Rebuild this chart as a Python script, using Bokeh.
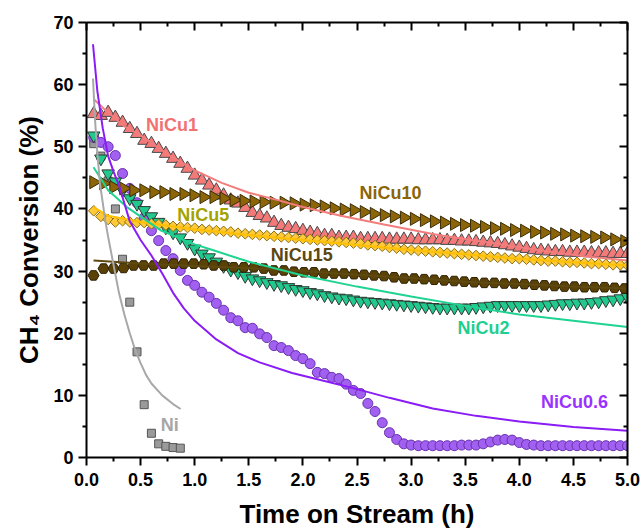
import numpy as np
from bokeh.plotting import figure
from bokeh.models import FixedTicker, LinearAxis, Label, Range1d, CustomLabelingPolicy
from bokeh.embed import file_html
from bokeh.resources import INLINE

# ---------------- data ----------------
# sampling times (h)
t_fast = np.round(np.arange(1, 76) / 15.0, 4)          # every 4 min
t_slow = np.round(0.065 + 0.0926 * np.arange(54), 4)   # every ~5.6 min

ni_t = [0.067, 0.133, 0.2, 0.267, 0.333, 0.4, 0.467, 0.533, 0.6, 0.667, 0.733, 0.8, 0.867]
ni_y = [50.5, 48.5, 44.5, 40.0, 31.9, 25.0, 17.0, 8.5, 3.9, 2.2, 1.8, 1.6, 1.5]

nicu06_y = [51.5, 50.7, 50.0, 48.6, 45.7, 43.3, 41.0, 38.6, 36.5, 34.9,
            33.3, 32.0, 30.1, 28.5, 27.7, 26.6, 25.8, 24.8, 23.7, 22.5,
            22.0, 20.9, 20.8, 19.9, 19.3, 18.0, 17.7, 17.2, 16.4, 15.9,
            15.1, 13.7, 13.5, 12.9, 12.7, 11.8, 10.8, 10.3, 8.7, 7.4,
            5.6, 4.0, 2.9, 2.2, 2.0, 1.9, 1.9, 1.9, 1.9, 1.9,
            1.9, 2.0, 2.0, 2.0, 2.2, 2.5, 2.8, 2.9, 2.8, 2.4,
            2.1, 2.0, 1.9, 1.9, 1.9, 1.9, 1.9, 1.9, 1.9, 1.9,
            1.9, 1.9, 1.9, 1.9, 1.9]

nicu1_y = [55.3, 55.0, 55.5, 54.7, 53.9, 52.9, 52.1, 51.0, 50.5, 49.7,
           48.9, 48.1, 47.3, 46.5, 45.4, 44.6, 43.8, 43.0, 42.2, 41.4,
           40.9, 40.2, 39.4, 38.9, 38.5, 37.8, 37.3, 37.0, 36.8, 36.5,
           36.2, 36.0, 35.7, 35.7, 35.4, 35.4, 35.4, 35.2, 35.2, 35.2,
           35.2, 35.1, 35.1, 35.1, 35.1, 35.0, 35.0, 35.0, 35.0, 34.9,
           34.9, 34.8, 34.8, 34.7, 34.6, 34.5, 34.4, 34.2, 34.0, 33.8,
           33.6, 33.4, 33.3, 33.2, 33.1, 33.1, 33.0, 33.0, 33.0, 32.9,
           32.9, 32.9, 32.8, 32.8, 32.8]

nicu2_y = [51.8, 48.1, 45.7, 44.4, 43.0, 41.7, 40.8, 39.8, 38.8, 37.9,
           37.0, 36.2, 35.4, 34.5, 33.6, 32.8, 32.2, 31.5, 30.8, 30.2,
           29.8, 29.2, 28.8, 28.5, 28.2, 27.9, 27.7, 27.4, 27.1, 26.9,
           26.6, 26.4, 26.1, 25.9, 25.7, 25.6, 25.4, 25.2, 25.1, 25.0,
           24.9, 24.8, 24.7, 24.6, 24.5, 24.4, 24.3, 24.2, 24.1, 24.1,
           24.1, 24.1, 24.1, 24.2, 24.3, 24.4, 24.5, 24.5, 24.5, 24.5,
           24.5, 24.5, 24.5, 24.6, 24.7, 24.8, 24.8, 24.9, 24.9, 25.0,
           25.1, 25.3, 25.4, 25.6, 25.8]

nicu5_y = [39.7, 38.8, 38.3, 37.9, 38.1, 37.9, 37.8, 37.8, 37.6, 37.5,
           37.4, 37.2, 37.1, 37.0, 36.9, 36.7, 36.6, 36.5, 36.4, 36.3,
           36.1, 36.0, 35.9, 35.8, 35.7, 35.6, 35.5, 35.4, 35.3, 35.2,
           35.1, 35.0, 34.9, 34.8, 34.7, 34.6, 34.5, 34.4, 34.2, 34.1,
           34.0, 33.8, 33.7, 33.5, 33.4, 33.3, 33.2, 33.1, 33.0, 32.9,
           32.8, 32.7, 32.6, 32.5, 32.4, 32.3, 32.2, 32.1, 32.0, 32.0,
           31.9, 31.8, 31.7, 31.6, 31.6, 31.5, 31.4, 31.4, 31.3, 31.2,
           31.2, 31.1, 31.0, 31.0, 30.9]

nicu10_y = [44.3, 44.1, 43.5, 43.3, 43.0, 43.0, 42.7, 42.7, 42.4, 42.4,
            42.2, 41.9, 41.9, 41.7, 41.4, 41.3, 41.2, 41.1, 41.0, 41.0,
            40.9, 40.7, 40.6, 40.4, 40.1, 39.9, 39.8, 39.5, 39.2, 39.0,
            38.8, 38.6, 38.4, 38.2, 38.0, 37.8, 37.6, 37.4, 37.3, 37.1,
            36.9, 36.8, 36.6, 36.5, 36.3, 36.2, 36.0, 35.9, 35.7, 35.6,
            35.5, 35.4, 35.1, 34.8]

nicu15_y = [29.3, 30.4, 30.4, 30.5, 30.9, 30.9, 30.9, 31.2, 31.2, 31.2,
            31.2, 31.1, 30.9, 30.9, 30.6, 30.6, 30.6, 30.4, 30.1, 30.1,
            29.9, 29.8, 29.8, 29.6, 29.6, 29.6, 29.5, 29.4, 29.3, 29.2,
            29.0, 28.8, 28.8, 28.7, 28.6, 28.5, 28.4, 28.3, 28.2, 28.1,
            28.1, 28.0, 28.0, 27.9, 27.8, 27.7, 27.6, 27.5, 27.5, 27.4,
            27.4, 27.4, 27.3, 27.2]

# fitted curves
fit_ni_t = [0.06, 0.08, 0.1, 0.125, 0.15, 0.175, 0.2, 0.25, 0.3, 0.35, 0.4, 0.45, 0.5, 0.55, 0.6, 0.7, 0.8, 0.87]
fit_ni_y = [61.0, 54.0, 49.0, 44.0, 41.0, 38.0, 35.5, 31.0, 26.5, 23.0, 20.0, 17.3, 15.2, 13.3, 11.9, 10.0, 8.6, 7.8]

fit_06_t = [0.06, 0.1, 0.15, 0.2, 0.25, 0.3, 0.4, 0.5, 0.6, 0.7, 0.8, 0.9, 1.0, 1.2, 1.4, 1.6, 1.9, 2.2, 2.5, 2.8, 3.2, 3.6, 4.0, 4.5, 5.0]
fit_06_y = [66.5, 59.0, 53.0, 48.5, 46.0, 43.8, 38.0, 35.0, 32.5, 29.6, 26.5, 24.0, 22.0, 19.0, 16.8, 15.3, 13.6, 12.3, 11.0, 9.6, 7.9, 6.7, 5.8, 4.9, 4.3]

fit_1_t = [0.065, 0.2, 0.35, 0.53, 0.75, 1.0, 1.25, 1.5, 1.75, 2.0, 2.35, 2.75, 3.25, 3.75, 4.2, 4.6, 5.0]
fit_1_y = [57.7, 55.5, 53.3, 51.5, 48.8, 46.2, 44.2, 42.6, 41.5, 40.3, 38.9, 37.5, 35.8, 34.5, 33.3, 32.4, 31.7]

fit_2_t = [0.065, 0.2, 0.38, 0.69, 1.0, 1.18, 1.5, 2.0, 2.5, 3.0, 3.5, 4.0, 4.5, 5.0]
fit_2_y = [46.7, 43.0, 40.2, 36.5, 34.3, 33.3, 31.5, 29.3, 27.5, 25.9, 24.4, 23.0, 22.0, 21.0]

fit_5_t = [0.065, 0.2, 0.5, 1.0, 1.5, 2.0, 2.5, 3.0, 3.5, 4.0, 4.5, 5.0]
fit_5_y = [40.3, 38.9, 37.9, 36.7, 35.8, 35.0, 34.2, 33.4, 32.7, 32.0, 31.4, 30.9]

fit_15_t = [0.065, 0.5, 1.0, 1.5, 2.0, 2.5, 3.0, 3.5, 4.0, 4.5, 5.0]
fit_15_y = [31.7, 31.2, 30.8, 30.5, 30.0, 29.4, 28.9, 28.3, 27.9, 27.5, 27.2]

x_ticks = [0.0, 0.5, 1.0, 1.5, 2.0, 2.5, 3.0, 3.5, 4.0, 4.5, 5.0]
x_tick_labels = ["0.0", "0.5", "1.0", "1.5", "2.0", "2.5", "3.0", "3.5", "4.0", "4.5", "5.0"]
x_minor = [0.25, 0.75, 1.25, 1.75, 2.25, 2.75, 3.25, 3.75, 4.25, 4.75]
y_ticks = [0, 10, 20, 30, 40, 50, 60, 70]
y_tick_labels = ["0", "10", "20", "30", "40", "50", "60", "70"]
y_minor = [5, 15, 25, 35, 45, 55, 65]

# ---------------- figure ----------------
FONT = "Liberation Sans"

p = figure(width=641, height=531, output_backend="svg", toolbar_location=None,
           x_range=Range1d(0, 5), y_range=Range1d(0, 70),
           min_border_left=86, min_border_right=14, min_border_top=22, min_border_bottom=74)
p.background_fill_color = "white"
p.border_fill_color = "white"
p.outline_line_color = None
p.xgrid.visible = False
p.ygrid.visible = False

# markers
mk_line = "#4a4a4a"
p.scatter(ni_t, ni_y, marker="square", size=8, fill_color="#9a9a9a", line_color="#555555", line_width=1)
p.scatter(t_fast, nicu06_y, marker="circle", size=10, fill_color="#a160f0", line_color="#6a30b0", line_width=1)
p.scatter(t_fast, nicu1_y, marker="triangle", size=13, fill_color="#f47a7a", line_color=mk_line, line_width=1)
p.scatter(t_fast, nicu2_y, marker="inverted_triangle", size=12.5, fill_color="#22c98e", line_color="#2d3a33", line_width=1)
p.scatter(t_fast, nicu5_y, marker="square", angle=np.pi / 4, size=7.5, fill_color="#ffc93a", line_color="#8a7010", line_width=1)
p.scatter(t_slow, nicu10_y, marker="triangle", angle=-np.pi / 2, size=13, fill_color="#8b6508", line_color="#3a2c05", line_width=1)
p.scatter(t_slow, nicu15_y, marker="hex", size=11, fill_color="#5a4106", line_color="#2e2103", line_width=1)

# fitted curves
p.line(fit_5_t, fit_5_y, line_color="#ffc000", line_width=2)
p.line(fit_15_t, fit_15_y, line_color="#5e4a10", line_width=2)
p.line(fit_1_t, fit_1_y, line_color="#f37c7c", line_width=2)
p.line(fit_2_t, fit_2_y, line_color="#1fd391", line_width=2)
p.line(fit_06_t, fit_06_y, line_color="#8a1cf5", line_width=2)
p.line(fit_ni_t, fit_ni_y, line_color="#a8a8a8", line_width=2)

# series labels
labels = [
    ("Ni", 0.77, 5.2, "#a6a6a6"),
    ("NiCu1", 0.79, 53.5, "#f07272"),
    ("NiCu10", 2.81, 42.5, "#8b6508"),
    ("NiCu5", 1.08, 39.0, "#a3a300"),
    ("NiCu15", 1.99, 32.6, "#5c4712"),
    ("NiCu2", 3.67, 20.8, "#1fcf8f"),
    ("NiCu0.6", 4.51, 8.9, "#9933ff"),
]
for txt, lx, ly, col in labels:
    p.add_layout(Label(x=lx, y=ly, text=txt, text_color=col, text_font=FONT,
                       text_font_style="bold", text_font_size="18px",
                       text_align="center", text_baseline="middle"))

# axes
def style_axis(ax):
    ax.axis_line_color = "black"
    ax.axis_line_width = 2
    ax.major_tick_line_color = "black"
    ax.major_tick_line_width = 2
    ax.minor_tick_line_color = "black"
    ax.minor_tick_line_width = 2
    ax.major_label_text_font = FONT
    ax.major_label_text_font_style = "bold"
    ax.major_label_text_font_size = "18px"
    ax.major_label_text_color = "black"
    ax.axis_label_text_font = FONT
    ax.axis_label_text_font_style = "bold"
    ax.axis_label_text_font_size = "26px"
    ax.axis_label_text_color = "black"

xa = p.xaxis[0]
xa.ticker = FixedTicker(ticks=x_ticks, minor_ticks=x_minor)
xa.major_label_overrides = dict(zip(x_ticks, x_tick_labels))
xa.axis_label = "Time on Stream (h)"
style_axis(xa)
xa.major_tick_out = 8
xa.major_tick_in = 0
xa.minor_tick_out = 4
xa.minor_tick_in = 0
xa.major_label_standoff = 7
xa.axis_label_standoff = 10

ya = p.yaxis[0]
ya.ticker = FixedTicker(ticks=y_ticks, minor_ticks=y_minor)
ya.major_label_overrides = dict(zip(y_ticks, y_tick_labels))
ya.axis_label = "CH\u2084 Conversion (%)"
style_axis(ya)
ya.major_tick_out = 8
ya.major_tick_in = 0
ya.minor_tick_out = 4
ya.minor_tick_in = 0
ya.major_label_standoff = 5
ya.axis_label_standoff = 6

no_labels = CustomLabelingPolicy(code="""
    for (const i of Array.from(indices)) { indices.unset(i) }
    return indices
""")

def frame_axis(ticks, minor):
    ax = LinearAxis(ticker=FixedTicker(ticks=ticks, minor_ticks=minor), major_label_policy=no_labels)
    style_axis(ax)
    ax.major_label_text_font_size = "0px"
    ax.major_label_standoff = 0
    ax.major_tick_in = 8
    ax.major_tick_out = 0
    ax.minor_tick_in = 4
    ax.minor_tick_out = 0
    return ax

p.add_layout(frame_axis(x_ticks, x_minor), "above")
p.add_layout(frame_axis(y_ticks, y_minor), "right")

open("out.html", "w").write(file_html(p, INLINE))
